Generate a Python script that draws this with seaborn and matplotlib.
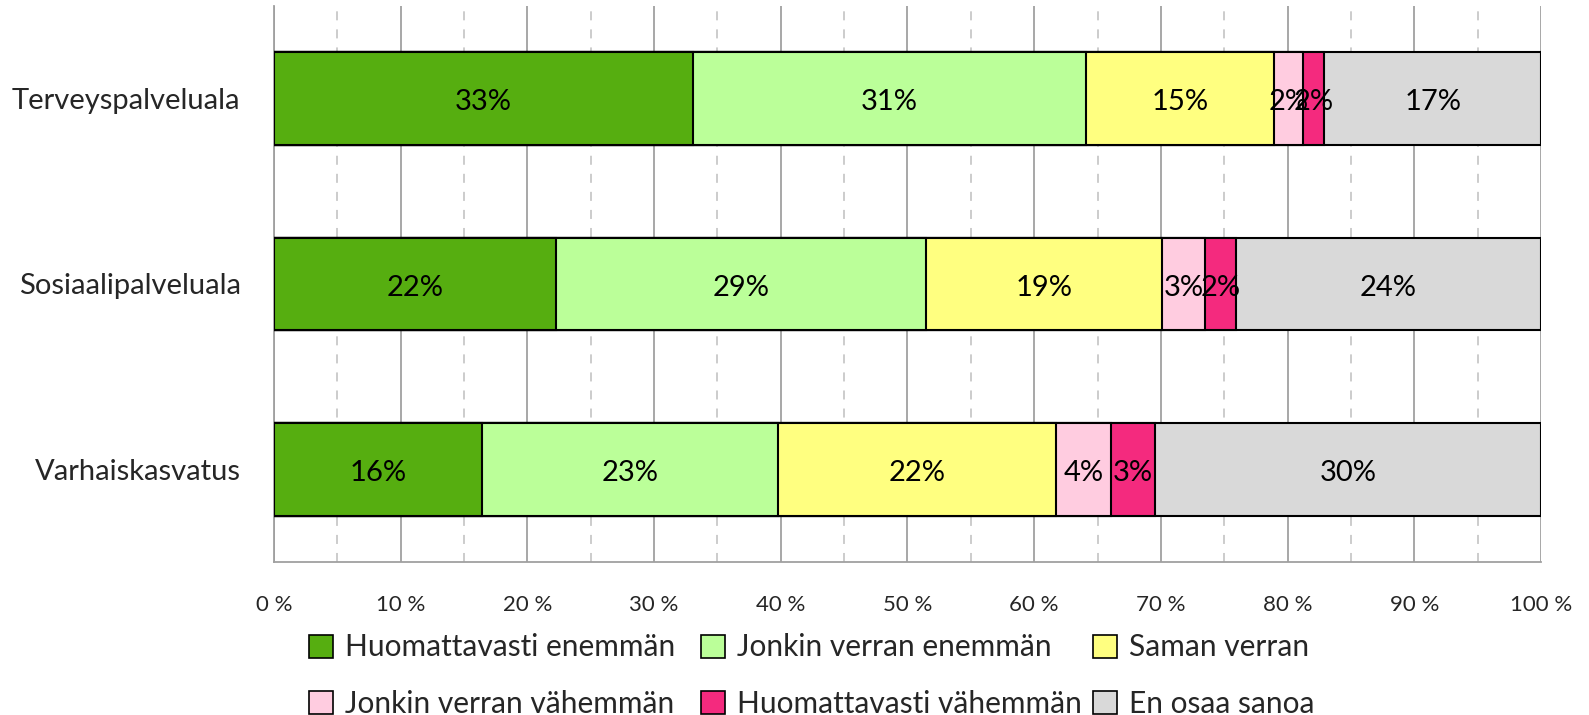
import numpy as np
import pandas as pd
import seaborn as sns
from matplotlib import pyplot as plt
from matplotlib.patches import Patch
from matplotlib.ticker import MultipleLocator, FuncFormatter

# data (shares in percent)
categories = ["Terveyspalveluala", "Sosiaalipalveluala", "Varhaiskasvatus"]
series = ["Huomattavasti enemmän", "Jonkin verran enemmän", "Saman verran",
          "Jonkin verran vähemmän", "Huomattavasti vähemmän", "En osaa sanoa"]
huom_enemman = [33.1, 22.3, 16.4]
jonkin_enemman = [31.0, 29.2, 23.4]
saman = [14.8, 18.6, 21.9]
jonkin_vahemman = [2.3, 3.4, 4.4]
huom_vahemman = [1.7, 2.4, 3.4]
en_osaa = [17.1, 24.1, 30.5]
colors = ["#56AE10", "#BBFF99", "#FFFF80", "#FFCCE0", "#F42A7E", "#D9D9D9"]

values = [huom_enemman, jonkin_enemman, saman, jonkin_vahemman, huom_vahemman, en_osaa]
df = pd.DataFrame({s: v for s, v in zip(series, values)}, index=categories)
cum = df.cumsum(axis=1)

sns.set_style("white")
plt.rcParams['font.family'] = ['Lato', 'DejaVu Sans']

fig = plt.figure(figsize=(15.89, 7.15), dpi=100)
ax = fig.add_axes([0.1724, 0.214, 0.7974, 0.7776])

# draw cumulative bars from the right-most segment back to the first
for s, c in reversed(list(zip(series, colors))):
    sns.barplot(x=cum[s].values, y=categories, color=c, saturation=1, orient="h",
                width=0.5, edgecolor="black", linewidth=1.5, ax=ax, zorder=3)

# segment labels
for i, cat in enumerate(categories):
    left = 0
    for s in series:
        v = df.loc[cat, s]
        ax.text(left + v / 2, i + 0.02, f"{v:.0f}%", ha="center", va="center",
                fontsize=21, color="black", zorder=5)
        left += v

ax.set_xlim(0, 100)
ax.set_ylim(2.5, -0.5)
ax.xaxis.set_major_locator(MultipleLocator(10))
ax.xaxis.set_minor_locator(MultipleLocator(5))
ax.xaxis.set_major_formatter(FuncFormatter(lambda x, p: f"{x:.0f} %"))
ax.grid(axis="x", which="major", color="#a0a0a0", linewidth=1.3, zorder=0)
ax.grid(axis="x", which="minor", color="#c8c8c8", linewidth=1.3,
        linestyle=(0, (5, 5)), zorder=0)
ax.grid(axis="y", visible=False)
ax.set_axisbelow(True)
for side in ["top", "right"]:
    ax.spines[side].set_visible(False)
for side in ["left", "bottom"]:
    ax.spines[side].set_color("#a0a0a0")
    ax.spines[side].set_linewidth(1.3)
ax.tick_params(axis="x", which="both", length=0, pad=24, labelsize=16)
ax.tick_params(axis="y", length=0, pad=24, labelsize=21)
ax.set_xlabel("")
ax.set_ylabel("")

# legend: three columns of two entries, filled row by row like the original
handles = [Patch(facecolor=c, edgecolor="black", linewidth=1.2, label=s)
           for s, c in zip(series, colors)]
col_x = [309, 701, 1093]
for j, x in enumerate(col_x):
    leg = fig.legend(handles=[handles[j], handles[j + 3]], loc="upper left",
                     bbox_to_anchor=(x / 1589, 0.114), frameon=False,
                     fontsize=21.5, handlelength=0.8, handleheight=0.8,
                     borderpad=0, borderaxespad=0, handletextpad=0.4,
                     labelspacing=0.95)

plt.savefig("out.png", dpi=100)
